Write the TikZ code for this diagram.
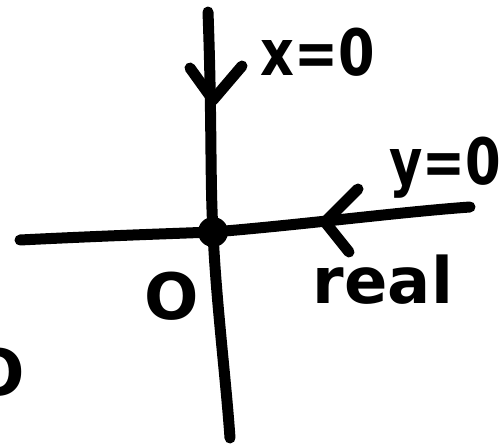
\documentclass[tikz,border=0pt]{standalone}
\usepackage{fontspec}
\setmainfont{DejaVu Sans}
\begin{document}
\begin{tikzpicture}[x=1pt,y=-1pt,
  stroke/.style={line width=11pt,line cap=round,line join=round,black},
  lbl/.style={font=\bfseries\fontsize{64}{64}\selectfont,inner sep=0pt}]
\useasboundingbox (0,0) rectangle (503,444);
\node[circle,fill=black,minimum size=30pt,inner sep=0pt] (o) at (213,232) {};
\coordinate (vtop) at (208,12);
\coordinate (vbot) at (230,438);
\coordinate (hl) at (20,240);
\coordinate (hr) at (470,207);
\coordinate (va) at (213,100);
\coordinate (ha) at (325,222);
\draw[stroke] (vtop) .. controls (212,120) and (210,180) .. (o.center)
  .. controls (216,300) and (226,380) .. (vbot);
\draw[stroke] (hl) .. controls (100,236) and (160,234) .. (o.center)
  .. controls (300,225) and (400,212) .. (hr);
\draw[stroke] (190,68) -- (va) -- (242,66);
\draw[stroke] (358,189) -- (ha) -- (349,252);
\node[lbl] (xl) at (318,52) {\scalebox{0.82}[1]{x=0}};
\node[lbl] (yl) at (445,168) {\scalebox{0.8}[1]{y=0}};
\node[lbl] (ol) at (172,296) {O};
\node[lbl] (rl) at (383,280) {real};
\node[lbl] (pl) at (-2,372) {O};
\end{tikzpicture}
\end{document}
